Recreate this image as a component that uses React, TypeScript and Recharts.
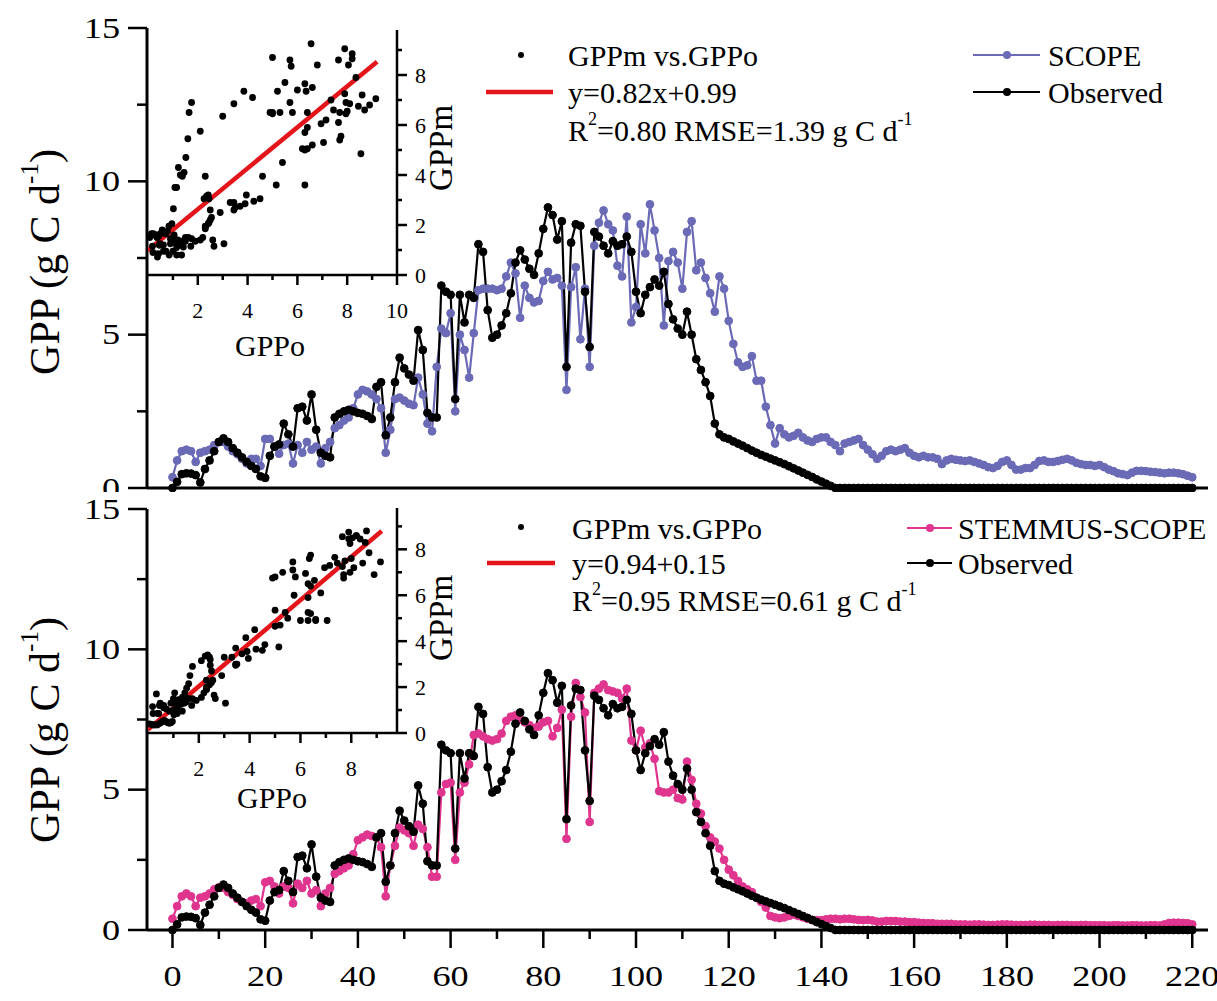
import React from 'react';
import { LineChart, Line, XAxis, YAxis, ScatterChart, Scatter, ReferenceLine } from 'recharts';

const SERIF = "'Liberation Serif', 'DejaVu Serif', 'Noto Serif', serif";
const W = 1217;
const H = 1001;

const PURPLE = '#6a6ab6';
const PINK = '#e0358f';
const RED = '#e3151b';

// daily GPP (g C d-1), day 0..220
const observed = [
  0, 0.2, 0.45, 0.48, 0.47, 0.42, 0.18, 0.62, 0.9, 1.2,
  1.5, 1.62, 1.5, 1.3, 1.15, 1.0, 0.85, 0.72, 0.62, 0.38,
  0.33, 1.05, 1.35, 1.42, 2.1, 1.75, 1.35, 2.6, 2.65, 2.2,
  3.05, 1.9, 1.15, 1.05, 1.0, 2.3, 2.42, 2.5, 2.55, 2.5,
  2.45, 2.42, 2.35, 2.25, 3.3, 3.45, 1.72, 2.3, 3.45, 4.25,
  3.9, 3.7, 3.5, 5.15, 4.5, 2.45, 2.3, 2.3, 6.6, 6.4,
  6.3, 2.9, 6.3, 5.4, 6.3, 6.2, 7.95, 7.7, 5.8, 4.9,
  5.0, 5.3, 5.7, 6.35, 7.35, 7.75, 7.45, 7.15, 6.95, 7.65,
  8.45, 9.15, 8.9, 8.1, 8.7, 3.95, 8.0, 8.6, 8.55, 6.4,
  4.6, 8.35, 8.2, 7.9, 7.65, 8.05, 7.9, 7.95, 8.2, 7.7,
  6.4, 5.7, 6.3, 6.55, 6.8, 6.6, 7.05, 6.0, 5.5, 5.2,
  5.0, 5.75, 5.0, 4.2, 3.85, 3.45, 3.0, 2.1, 1.75, 1.65,
  1.6, 1.52, 1.45, 1.38, 1.3, 1.22, 1.15, 1.08, 1.02, 0.96,
  0.9, 0.84, 0.78, 0.71, 0.64, 0.57, 0.5, 0.43, 0.36, 0.28,
  0.21, 0.14, 0.07, 0, 0, 0, 0, 0, 0, 0,
  0, 0, 0, 0, 0, 0, 0, 0, 0, 0,
  0, 0, 0, 0, 0, 0, 0, 0, 0, 0,
  0, 0, 0, 0, 0, 0, 0, 0, 0, 0,
  0, 0, 0, 0, 0, 0, 0, 0, 0, 0,
  0, 0, 0, 0, 0, 0, 0, 0, 0, 0,
  0, 0, 0, 0, 0, 0, 0, 0, 0, 0,
  0, 0, 0, 0, 0, 0, 0, 0, 0, 0,
  0,
];

const scope = [
  0.35, 0.9, 1.2, 1.25, 1.2, 0.85, 1.15, 1.2, 1.25, 1.4,
  1.5, 1.5, 1.35, 1.2, 1.1, 0.95, 0.8, 0.95, 0.95, 0.72,
  1.6, 1.6, 1.35, 1.12, 1.4, 1.45, 0.8, 1.4, 1.15, 1.5,
  1.25, 1.35, 0.8, 1.3, 1.5, 1.95, 2.05, 2.2, 2.3, 2.6,
  3.05, 3.2, 3.15, 3.05, 2.9, 2.6, 1.15, 1.9, 2.9, 2.95,
  2.85, 2.75, 2.7, 3.6, 3.05, 2.1, 1.85, 3.95, 5.2, 5.05,
  5.7, 2.5, 5.0, 4.5, 3.6, 5.05, 6.45, 6.5, 6.5, 6.5,
  6.45, 6.5, 6.9, 7.35, 7.0, 5.55, 6.6, 6.2, 6.05, 6.1,
  6.75, 7.05, 6.8, 6.85, 6.6, 3.2, 6.55, 7.2, 4.85, 6.5,
  3.95, 7.9, 8.65, 9.05, 8.6, 8.4, 7.25, 6.9, 8.85, 5.4,
  5.9, 8.6, 7.65, 9.25, 8.4, 7.5, 5.3, 7.4, 7.7, 7.35,
  6.5, 8.35, 8.7, 7.1, 7.35, 6.85, 6.35, 5.75, 6.9, 6.5,
  5.45, 4.7, 4.1, 3.95, 4.0, 4.3, 3.5, 3.5, 2.65, 2.05,
  1.45, 1.95, 1.75, 1.65, 1.7, 1.8, 1.65, 1.55, 1.5, 1.6,
  1.65, 1.65, 1.5, 1.4, 1.2, 1.45, 1.5, 1.55, 1.6, 1.4,
  1.25, 1.1, 0.95, 1.05, 1.2, 1.25, 1.2, 1.25, 1.3, 1.15,
  1.05, 1.0, 1.05, 1.0, 1.0, 0.95, 0.78, 0.9, 0.95, 0.92,
  0.9, 0.88, 0.9, 0.85, 0.8, 0.75, 0.68, 0.65, 0.72, 0.85,
  0.9, 0.75, 0.6, 0.6, 0.65, 0.65, 0.75, 0.88, 0.9, 0.85,
  0.85, 0.88, 0.92, 0.95, 0.9, 0.82, 0.78, 0.75, 0.75, 0.72,
  0.75, 0.68, 0.6, 0.55, 0.48, 0.45, 0.42, 0.5, 0.56, 0.56,
  0.55, 0.53, 0.52, 0.5, 0.48, 0.5, 0.5, 0.48, 0.45, 0.4,
  0.35,
];

const stemmus = [
  0.4, 0.85, 1.2, 1.3, 1.2, 0.85, 1.15, 1.2, 1.3, 1.45,
  1.52, 1.5, 1.35, 1.25, 1.1, 1.0, 0.95, 1.05, 1.1, 0.85,
  1.7, 1.75, 1.55, 1.3, 1.55, 1.5, 0.95, 1.65, 1.5, 1.75,
  1.3, 1.42, 0.85, 1.3, 1.5, 2.0, 2.1, 2.2, 2.3, 2.7,
  3.2, 3.3, 3.4, 3.35, 3.3, 2.95, 1.2, 2.3, 3.0, 3.65,
  3.55, 3.45, 3.0, 3.75, 3.6, 2.95, 1.9, 1.9, 4.9, 5.2,
  5.25, 2.5, 4.9, 5.25, 5.9, 6.95, 7.0, 6.9, 6.8, 6.75,
  6.8, 7.0, 7.45, 7.6, 7.65, 7.5, 7.4, 7.3, 7.2, 7.25,
  7.4, 7.45, 6.9, 7.2, 7.85, 3.25, 7.6, 8.8, 8.3, 7.75,
  3.85, 8.45, 8.6, 8.75, 8.55, 8.5, 8.45, 8.25, 8.6, 6.75,
  6.4, 7.1, 6.5, 6.65, 6.1, 4.95, 4.9, 4.9, 5.0, 4.7,
  4.65, 6.0, 5.35, 4.5, 4.15, 3.7, 3.3, 3.15, 2.9, 2.5,
  2.15, 1.95, 1.75, 1.55, 1.45, 1.35, 1.15, 1.0, 0.8, 0.5,
  0.45, 0.42, 0.45, 0.5, 0.55, 0.5, 0.45, 0.4, 0.35, 0.35,
  0.35, 0.38, 0.4, 0.4, 0.38, 0.4, 0.4, 0.38, 0.36, 0.35,
  0.36, 0.34, 0.3, 0.3, 0.32, 0.32, 0.32, 0.3, 0.3, 0.28,
  0.28, 0.26, 0.25, 0.24, 0.24, 0.22, 0.22, 0.22, 0.22, 0.2,
  0.2, 0.2, 0.19, 0.2, 0.2, 0.19, 0.18, 0.18, 0.19, 0.2,
  0.2, 0.19, 0.18, 0.18, 0.18, 0.19, 0.19, 0.18, 0.18, 0.18,
  0.17, 0.18, 0.18, 0.18, 0.17, 0.17, 0.18, 0.18, 0.17, 0.17,
  0.17, 0.17, 0.16, 0.17, 0.17, 0.16, 0.16, 0.17, 0.17, 0.16,
  0.16, 0.17, 0.17, 0.16, 0.2, 0.25, 0.26, 0.26, 0.25, 0.24,
  0.2,
];

const dayTicks = [0, 10, 20, 30, 40, 50, 60, 70, 80, 90, 100, 110, 120, 130, 140, 150, 160, 170, 180, 190, 200, 210, 220];
const gppTicks = [0, 2.5, 5, 7.5, 10, 12.5, 15];
const insetXTicksTop = [1, 2, 3, 4, 5, 6, 7, 8, 9, 10];
const insetXTicksBottom = [1, 2, 3, 4, 5, 6, 7, 8, 9];
const insetYTicks = [0, 1, 2, 3, 4, 5, 6, 7, 8, 9];

const fitScope = { slope: 0.82, intercept: 0.99, xEnd: 9.2 };
const fitStemmus = { slope: 0.94, intercept: 0.15, xEnd: 9.2 };

const XMIN = -5.5;
const XMAX = 223.4;

const rows = observed.map((obs, day) => ({ day, obs, scope: scope[day], stemmus: stemmus[day] }));

const serifStyle = { fontFamily: SERIF };

const MainYTick = (p: any) => {
  const { x, y, payload } = p;
  const v = payload.value;
  const major = v % 5 === 0;
  return (
    <g>
      <line x1={x - (major ? 19 : 10)} x2={x} y1={y} y2={y} stroke="#000" strokeWidth={2.5} />
      {major && (
        <text transform={`translate(${x - 27},${y}) scale(1.25,1)`} textAnchor="end" dominantBaseline="central"
          fontSize={29} style={serifStyle} fill="#000">{v}</text>
      )}
    </g>
  );
};

const MainXTick = (p: any) => {
  const { x, y, payload } = p;
  const v = payload.value;
  const major = v % 20 === 0;
  return (
    <g>
      <line x1={x} x2={x} y1={y} y2={y + (major ? 18 : 9)} stroke="#000" strokeWidth={2.5} />
      {major && (
        <text transform={`translate(${x},${y + 46}) scale(1.25,1)`} textAnchor="middle" dominantBaseline="central"
          fontSize={29} style={serifStyle} fill="#000">{v}</text>
      )}
    </g>
  );
};

const InsetXTick = (p: any) => {
  const { x, y, payload } = p;
  const v = payload.value;
  const major = v % 2 === 0;
  return (
    <g>
      <line x1={x} x2={x} y1={y} y2={y + (major ? 10 : 5)} stroke="#000" strokeWidth={2.5} />
      {major && (
        <text x={x} y={y + 35} textAnchor="middle" dominantBaseline="central" fontSize={22} style={serifStyle} fill="#000">{v}</text>
      )}
    </g>
  );
};

const InsetYTick = (p: any) => {
  const { x, y, payload } = p;
  const v = payload.value;
  const major = v % 2 === 0;
  return (
    <g>
      <line x1={x} x2={x + (major ? 10 : 5)} y1={y} y2={y} stroke="#000" strokeWidth={2.5} />
      {major && (
        <text x={x + 18} y={y} textAnchor="start" dominantBaseline="central" fontSize={22} style={serifStyle} fill="#000">{v}</text>
      )}
    </g>
  );
};

const blackDot = (p: any) => <circle cx={p.cx} cy={p.cy} r={3.4} fill="#000" />;

type PanelProps = {
  top: number;
  height: number;
  marginTop: number;
  xAxisHeight: number;
  showXTicks: boolean;
  modelKey: string;
  modelColor: string;
};

function TimePanel(props: PanelProps) {
  const { top, height, marginTop, xAxisHeight, showXTicks, modelKey, modelColor } = props;
  return (
    <div style={{ position: 'absolute', left: 0, top, width: W, height, background: '#fff' }}>
      <LineChart width={W} height={height} data={rows} margin={{ top: marginTop, right: 9, bottom: 0, left: 0 }}>
        <XAxis dataKey="day" type="number" domain={[XMIN, XMAX]} allowDataOverflow
          ticks={showXTicks ? dayTicks : []} interval={0} tick={showXTicks ? <MainXTick /> : false}
          tickLine={false} tickSize={0} tickMargin={0} height={xAxisHeight}
          axisLine={{ stroke: '#000', strokeWidth: 3 }} />
        <XAxis xAxisId="top" orientation="top" type="number" domain={[XMIN, XMAX]} allowDataOverflow
          tick={false} tickLine={false} height={0} axisLine={{ stroke: '#000', strokeWidth: 2.5 }} />
        <YAxis type="number" domain={[0, 15]} ticks={gppTicks} interval={0} tick={<MainYTick />}
          tickLine={false} tickSize={0} tickMargin={0} width={147}
          axisLine={{ stroke: '#000', strokeWidth: 3 }} />
        <YAxis yAxisId="right" orientation="right" type="number" domain={[0, 15]} tick={false}
          tickLine={false} width={0} axisLine={{ stroke: '#000', strokeWidth: 2.5 }} />
        <Line dataKey={modelKey} type="linear" stroke={modelColor} strokeWidth={2.2}
          dot={{ r: 3.9, fill: modelColor, stroke: modelColor, strokeWidth: 1 }} isAnimationActive={false} />
        <Line dataKey="obs" type="linear" stroke="#000" strokeWidth={2.2}
          dot={{ r: 3.9, fill: '#000', stroke: '#000', strokeWidth: 1 }} isAnimationActive={false} />
      </LineChart>
    </div>
  );
}

type InsetProps = {
  top: number;
  plotHeight: number;
  xMax: number;
  xTicks: number[];
  model: number[];
  fit: { slope: number; intercept: number; xEnd: number };
};

function Inset(props: InsetProps) {
  const { top, plotHeight, xMax, xTicks, model, fit } = props;
  const pts = observed
    .map((o, i) => ({ o, m: model[i] }))
    .filter((d) => d.o > 0);
  const w = 249 + 60;
  const h = plotHeight + 90;
  return (
    <div style={{ position: 'absolute', left: 148, top, width: w, height: h }}>
      <ScatterChart width={w} height={h} margin={{ top: 0, right: 0, bottom: 0, left: 0 }}>
        <XAxis type="number" dataKey="o" domain={[0, xMax]} allowDataOverflow ticks={xTicks} interval={0}
          tick={<InsetXTick />} tickLine={false} tickSize={0} tickMargin={0} height={90}
          axisLine={{ stroke: '#000', strokeWidth: 2.5 }} />
        <YAxis type="number" dataKey="m" orientation="right" domain={[0, 9.8]} allowDataOverflow
          ticks={insetYTicks} interval={0} tick={<InsetYTick />} tickLine={false} tickSize={0} tickMargin={0}
          width={60} axisLine={{ stroke: '#000', strokeWidth: 2.5 }} />
        <Scatter data={pts} fill="#000" shape={blackDot} isAnimationActive={false} />
        <ReferenceLine
          segment={[
            { x: 0, y: fit.intercept },
            { x: fit.xEnd, y: fit.slope * fit.xEnd + fit.intercept },
          ]}
          stroke={RED} strokeWidth={4.5} />
      </ScatterChart>
    </div>
  );
}

const txt = { style: serifStyle, fill: '#000' };

function Annotations() {
  return (
    <svg width={W} height={H} style={{ position: 'absolute', left: 0, top: 0, pointerEvents: 'none', fontFamily: SERIF }}>
      {/* main y titles */}
      <text {...txt} fontSize={42} transform="translate(45,262) rotate(-90)" textAnchor="middle" dominantBaseline="central">
        GPP (g C d<tspan fontSize={25} dy={-16}>-1</tspan><tspan dy={16}>)</tspan>
      </text>
      <text {...txt} fontSize={42} transform="translate(45,730) rotate(-90)" textAnchor="middle" dominantBaseline="central">
        GPP (g C d<tspan fontSize={25} dy={-16}>-1</tspan><tspan dy={16}>)</tspan>
      </text>

      {/* inset titles */}
      <text {...txt} fontSize={30} x={270} y={345} textAnchor="middle" dominantBaseline="central">GPPo</text>
      <text {...txt} fontSize={30} x={272} y={797} textAnchor="middle" dominantBaseline="central">GPPo</text>
      <text {...txt} fontSize={33} transform="translate(441,148) rotate(-90)" textAnchor="middle" dominantBaseline="central">GPPm</text>
      <text {...txt} fontSize={33} transform="translate(441,618) rotate(-90)" textAnchor="middle" dominantBaseline="central">GPPm</text>

      {/* top legend */}
      <circle cx={521} cy={55} r={3} fill="#000" />
      <text {...txt} fontSize={30} x={568} y={55} dominantBaseline="central">GPPm vs.GPPo</text>
      <line x1={486} x2={553} y1={92} y2={92} stroke={RED} strokeWidth={4.5} />
      <text {...txt} fontSize={30} x={568} y={92} dominantBaseline="central">y=0.82x+0.99</text>
      <text {...txt} fontSize={30} x={568} y={130} dominantBaseline="central">
        R<tspan fontSize={18} dy={-11}>2</tspan><tspan dy={11}>=0.80 RMSE=1.39 g C d</tspan><tspan fontSize={18} dy={-11}>-1</tspan>
      </text>
      <line x1={973} x2={1040} y1={55} y2={55} stroke={PURPLE} strokeWidth={2} />
      <circle cx={1007} cy={55} r={4} fill={PURPLE} />
      <text {...txt} fontSize={30} x={1048} y={55} dominantBaseline="central">SCOPE</text>
      <line x1={973} x2={1040} y1={92} y2={92} stroke="#000" strokeWidth={2} />
      <circle cx={1007} cy={92} r={4} fill="#000" />
      <text {...txt} fontSize={30} x={1048} y={92} dominantBaseline="central">Observed</text>

      {/* bottom legend */}
      <circle cx={521} cy={527} r={3} fill="#000" />
      <text {...txt} fontSize={30} x={572} y={528} dominantBaseline="central">GPPm vs.GPPo</text>
      <line x1={487} x2={555} y1={563} y2={563} stroke={RED} strokeWidth={4.5} />
      <text {...txt} fontSize={30} x={572} y={563} dominantBaseline="central">y=0.94+0.15</text>
      <text {...txt} fontSize={30} x={572} y={600} dominantBaseline="central">
        R<tspan fontSize={18} dy={-11}>2</tspan><tspan dy={11}>=0.95 RMSE=0.61 g C d</tspan><tspan fontSize={18} dy={-11}>-1</tspan>
      </text>
      <line x1={907} x2={952} y1={528} y2={528} stroke={PINK} strokeWidth={2} />
      <circle cx={930} cy={528} r={4} fill={PINK} />
      <text {...txt} fontSize={30} x={958} y={528} dominantBaseline="central">STEMMUS-SCOPE</text>
      <line x1={907} x2={952} y1={563} y2={563} stroke="#000" strokeWidth={2} />
      <circle cx={930} cy={563} r={4} fill="#000" />
      <text {...txt} fontSize={30} x={958} y={563} dominantBaseline="central">Observed</text>
    </svg>
  );
}

export default function App() {
  return (
    <div style={{ position: 'absolute', left: 0, top: 0, width: W, height: H, background: '#fff', overflow: 'hidden', fontFamily: SERIF }}>
      <TimePanel top={0} height={492} marginTop={28} xAxisHeight={4} showXTicks={false}
        modelKey="scope" modelColor={PURPLE} />
      <Inset top={30} plotHeight={245} xMax={10} xTicks={insetXTicksTop} model={scope} fit={fitScope} />
      <TimePanel top={492} height={509} marginTop={17} xAxisHeight={71} showXTicks={true}
        modelKey="stemmus" modelColor={PINK} />
      <Inset top={508} plotHeight={225} xMax={9.8} xTicks={insetXTicksBottom} model={stemmus} fit={fitStemmus} />
      <Annotations />
    </div>
  );
}
